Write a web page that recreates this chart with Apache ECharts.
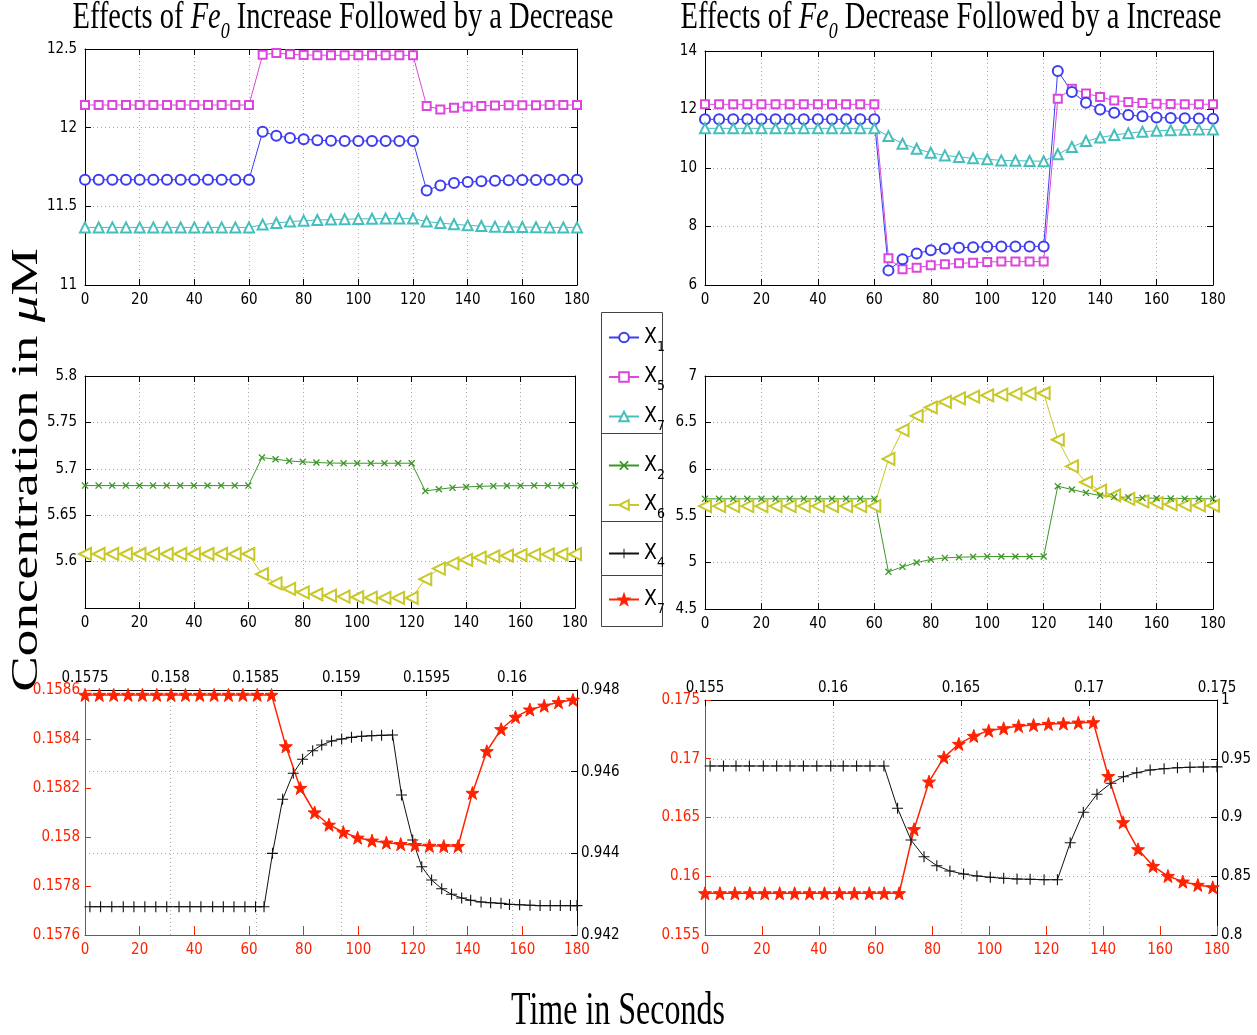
<!DOCTYPE html>
<html><head><meta charset="utf-8">
<script src="https://cdn.jsdelivr.net/npm/echarts@6/dist/echarts.min.js"></script>
<style>html,body{margin:0;padding:0;background:#fff}#c{width:1257px;height:1035px}</style>
</head><body><div id="c"></div><script>
// ---------------- data ----------------
const t = [0,5,10,15,20,25,30,35,40,45,50,55,60,65,70,75,80,85,90,95,100,105,110,115,120,125,130,135,140,145,150,155,160,165,170,175,180];

const tl_X1 = [11.669,11.669,11.669,11.669,11.669,11.669,11.669,11.669,11.669,11.669,11.669,11.669,11.669,11.974,11.948,11.935,11.927,11.920,11.917,11.916,11.916,11.916,11.916,11.916,11.916,11.601,11.633,11.648,11.654,11.659,11.663,11.665,11.667,11.668,11.669,11.669,11.669];
const tl_X5 = [12.144,12.144,12.144,12.144,12.144,12.144,12.144,12.144,12.144,12.144,12.144,12.144,12.144,12.464,12.474,12.466,12.462,12.461,12.460,12.460,12.460,12.460,12.460,12.460,12.460,12.138,12.116,12.127,12.134,12.138,12.141,12.142,12.143,12.143,12.144,12.144,12.144];
const tl_X7 = [11.366,11.366,11.366,11.366,11.366,11.366,11.366,11.366,11.366,11.366,11.366,11.366,11.366,11.384,11.394,11.403,11.409,11.413,11.416,11.418,11.420,11.421,11.422,11.422,11.422,11.403,11.394,11.386,11.379,11.375,11.371,11.369,11.368,11.367,11.366,11.366,11.366];

const tr_X1 = [11.664,11.664,11.664,11.664,11.664,11.664,11.664,11.664,11.664,11.664,11.664,11.664,11.664,6.50,6.88,7.08,7.185,7.24,7.276,7.29,7.31,7.32,7.32,7.32,7.32,13.32,12.60,12.23,12.00,11.89,11.81,11.77,11.73,11.71,11.70,11.69,11.68];
const tr_X5 = [12.177,12.177,12.177,12.177,12.177,12.177,12.177,12.177,12.177,12.177,12.177,12.177,12.177,6.912,6.536,6.593,6.672,6.707,6.74,6.76,6.786,6.80,6.80,6.80,6.80,12.37,12.71,12.55,12.43,12.31,12.26,12.22,12.20,12.19,12.18,12.18,12.18];
const tr_X7 = [11.356,11.356,11.356,11.356,11.356,11.356,11.356,11.356,11.356,11.356,11.356,11.356,11.356,11.09,10.83,10.66,10.52,10.43,10.38,10.33,10.30,10.26,10.25,10.24,10.23,10.47,10.72,10.92,11.04,11.13,11.19,11.24,11.27,11.29,11.31,11.32,11.32];

const ml_X2 = [5.6819,5.6819,5.6819,5.6819,5.6819,5.6819,5.6819,5.6819,5.6819,5.6819,5.6819,5.6819,5.6819,5.7121,5.7103,5.7085,5.7075,5.7068,5.7062,5.7060,5.7060,5.7060,5.7060,5.7060,5.7060,5.6762,5.6780,5.6797,5.6804,5.6811,5.6815,5.6817,5.6818,5.6819,5.6819,5.6819,5.6819];
const ml_X6 = [5.6082,5.6082,5.6082,5.6082,5.6082,5.6082,5.6082,5.6082,5.6082,5.6082,5.6082,5.6082,5.6082,5.5865,5.5765,5.5705,5.5669,5.5648,5.5633,5.5623,5.5616,5.5611,5.5609,5.5609,5.5609,5.5811,5.5925,5.5982,5.6018,5.6043,5.6057,5.6064,5.6071,5.6075,5.6078,5.6079,5.6080];

const mr_X2 = [5.682,5.682,5.682,5.682,5.682,5.682,5.682,5.682,5.682,5.682,5.682,5.682,5.682,4.899,4.952,4.999,5.031,5.048,5.056,5.060,5.062,5.063,5.063,5.063,5.063,5.818,5.782,5.746,5.718,5.704,5.697,5.692,5.688,5.685,5.684,5.683,5.682];
const mr_X6 = [5.604,5.604,5.604,5.604,5.604,5.604,5.604,5.604,5.604,5.604,5.604,5.604,5.604,6.110,6.420,6.573,6.662,6.722,6.761,6.779,6.793,6.800,6.808,6.811,6.815,6.316,6.031,5.860,5.771,5.718,5.682,5.654,5.636,5.622,5.615,5.611,5.608];

const tRed = [0,5.25,10.5,15.75,21,26.25,31.5,36.75,42,47.25,52.5,57.75,63,68.25,73.5,78.75,84,89.25,94.5,99.75,105,110.25,115.5,120.75,126,131.25,136.5,141.75,147,152.25,157.5,162.75,168,173.25,178.5];
const bl_X7 = [0.15858,0.15858,0.15858,0.15858,0.15858,0.15858,0.15858,0.15858,0.15858,0.15858,0.15858,0.15858,0.15858,0.15858,0.15837,0.15820,0.15810,0.15805,0.15802,0.157997,0.157985,0.157977,0.157971,0.157967,0.157964,0.157963,0.157963,0.15818,0.15835,0.15844,0.15849,0.15852,0.158536,0.15855,0.15856];
const br_X7 = [0.15855,0.15855,0.15855,0.15855,0.15855,0.15855,0.15855,0.15855,0.15855,0.15855,0.15855,0.15855,0.15855,0.15855,0.1640,0.16805,0.17012,0.17126,0.17194,0.17239,0.17259,0.17279,0.17287,0.17296,0.17300,0.17307,0.17310,0.16853,0.16459,0.16229,0.16087,0.16002,0.15954,0.15926,0.15906];

const tBlackL = [1.8,5.7,9.8,14.0,17.9,21.9,25.9,29.9,34.4,38.4,42.4,46.7,50.6,54.5,58.5,62.4,65.5,68.6,72.3,76.2,79.6,83.3,86.6,90.2,93.9,97.5,101.2,104.9,108.5,112.5,115.8,119.9,123.2,126.8,130.5,134.1,137.8,141.1,144.9,148.4,152.2,155.3,159.0,162.8,166.5,170.2,173.9,177.6,180];
const bl_X4 = [0.942693,0.942693,0.942693,0.942693,0.942693,0.942693,0.942693,0.942693,0.942693,0.942693,0.942693,0.942693,0.942693,0.942693,0.942693,0.942693,0.942693,0.944,0.945323,0.94596,0.946303,0.946514,0.946653,0.946751,0.9468,0.946841,0.946866,0.94688,0.94689,0.946898,0.945429,0.944327,0.943673,0.943347,0.943134,0.942997,0.942906,0.94285,0.942808,0.94279,0.942775,0.94275,0.94274,0.94273,0.94272,0.94272,0.94272,0.94272,0.94272];

const tBlackR = [1.8,6.5,10.9,15.6,20.5,25.2,29.9,34.6,39.3,44.2,48.6,53.3,58.0,62.9,67.7,72.4,77.0,81.5,86.1,90.9,95.6,100.3,105.0,109.7,114.3,119.2,123.9,128.4,133.0,137.8,142.7,147.1,151.8,156.5,161.4,166.1,170.5,175.2,180];
const br_X4 = [0.94383,0.94383,0.94383,0.94383,0.94383,0.94383,0.94383,0.94383,0.94383,0.94383,0.94383,0.94383,0.94383,0.94383,0.90783,0.88085,0.86664,0.85898,0.85447,0.85191,0.85021,0.8491,0.84826,0.84766,0.8474,0.84706,0.84706,0.87855,0.90443,0.91975,0.92911,0.93472,0.93813,0.94043,0.94153,0.94238,0.94272,0.94298,0.9431];

// axis ranges / ticks
const xTime = {min:0, max:180, interval:20};
const yTL = {min:11, max:12.5, interval:0.5};
const yTR = {min:6, max:14, interval:2};
const yML = {min:5.55, max:5.8, interval:0.05};
const yMR = {min:4.5, max:7, interval:0.5};
const yBLleft = {min:0.1576, max:0.1586, interval:0.0002};
const yBLright = {min:0.942, max:0.948, interval:0.002};
const xBLtop = {min:0.1575, max:0.16038, interval:0.0005};
const yBRleft = {min:0.155, max:0.175, interval:0.005};
const yBRright = {min:0.8, max:1, interval:0.05};
const xBRtop = {min:0.155, max:0.175, interval:0.005};

const legendSub = {X1:'1', X5:'5', X7:'7', X2:'2', X6:'6', X4:'4', X7r:'7'};

// ---------------- styling ----------------
const FONT = "'Liberation Sans Narrow','DejaVu Sans Condensed','Liberation Sans',sans-serif";
const SERIF = "'Liberation Serif','DejaVu Serif',serif";
const RED = '#ff2200';
const STAR = 'path://M10,0L12.35,6.76L19.51,6.91L13.8,11.24L15.88,18.09L10,14L4.12,18.09L6.2,11.24L0.49,6.91L7.65,6.76Z';
const SYM = {
  X1:{symbol:'emptyCircle', size:10, color:'#3c3cf0'},
  X5:{symbol:'emptyRect', size:8, color:'#dc46dc'},
  X7:{symbol:'emptyTriangle', size:10, color:'#46bebe'},
  X2:{symbol:'path://M0,1.3L1.3,0L10,8.7L8.7,10Z M8.7,0L10,1.3L1.3,10L0,8.7Z', size:7, color:'#3c9628', bw:0},
  X6:{symbol:'emptyTriangle', size:12, rotate:90, color:'#c8c828'},
  X4:{symbol:'path://M4.5,0H5.5V10H4.5Z M0,4.5H10V5.5H0Z', size:11, color:'#111', bw:0},
  X7r:{symbol:STAR, size:13, color:RED, lw:1.5}
};

function merge(a,b){for(const k in b){const v=b[k];if(v&&typeof v==='object'&&!Array.isArray(v)&&a[k]&&typeof a[k]==='object'&&!Array.isArray(a[k]))merge(a[k],v);else a[k]=v;}return a;}
const dotted = {show:true, lineStyle:{color:'#a8a8a8', type:[1,3], width:1}};

function axis(g, r, pos, extra){
  const base = {gridIndex:g, type:'value', min:r.min, max:r.max, interval:r.interval, position:pos,
    axisLine:{show:true, onZero:false, lineStyle:{color:'#000', width:1}},
    axisTick:{show:true, inside:true, length:6, lineStyle:{color:'#000'}},
    axisLabel:{show:true, color:'#000', fontSize:15, fontFamily:FONT, margin:8},
    splitLine:{show:false}};
  return merge(base, extra||{});
}
const xAxes = [], yAxes = [];
// standard box panels 0..3
[[xTime,yTL],[xTime,yTR],[xTime,yML],[xTime,yMR]].forEach(([xr,yr],g)=>{
  xAxes.push(axis(g,xr,'bottom',{splitLine:dotted}));
  xAxes.push(axis(g,xr,'top',{axisLabel:{show:false}}));
  yAxes.push(axis(g,yr,'left',{splitLine:dotted, axisLabel:{showMinLabel: g!==2}}));
  yAxes.push(axis(g,yr,'right',{axisLabel:{show:false}}));
});
// dual-axis panels 4,5
const redAx = {axisLine:{lineStyle:{color:RED}}, axisTick:{lineStyle:{color:RED}}, axisLabel:{color:RED}};
[[xBLtop,yBLleft,yBLright],[xBRtop,yBRleft,yBRright]].forEach(([xt,yl,yr],k)=>{
  const g = 4+k;
  xAxes.push(axis(g,xTime,'bottom',merge({axisTick:{length:9}},redAx)));
  xAxes.push(axis(g,xt,'top',{splitLine:dotted, axisLabel:{margin:4, showMaxLabel: k===1}}));
  yAxes.push(axis(g,yl,'left',merge({axisLabel:{margin:5}},redAx)));
  yAxes.push(axis(g,yr,'right',{splitLine:dotted, axisLabel:{margin:4}}));
});

function line(name, xs, ys, xi, yi){
  const s = SYM[name];
  return {name, type:'line', xAxisIndex:xi, yAxisIndex:yi,
    data: xs.map((x,i)=>[x, ys[i]]),
    symbol:s.symbol, symbolSize:s.size, symbolRotate:s.rotate||0, showAllSymbol:true,
    color:s.color, lineStyle:{color:s.color, width:s.lw||1},
    itemStyle:{color:s.color, borderColor:s.color, borderWidth: s.bw===0?0:1},
    emphasis:{disabled:true}, animation:false};
}
const series = [
  line('X5', t, tl_X5, 0, 0), line('X1', t, tl_X1, 0, 0), line('X7', t, tl_X7, 0, 0),
  line('X5', t, tr_X5, 2, 2), line('X1', t, tr_X1, 2, 2), line('X7', t, tr_X7, 2, 2),
  line('X2', t, ml_X2, 4, 4), line('X6', t, ml_X6, 4, 4),
  line('X6', t, mr_X6, 6, 6), line('X2', t, mr_X2, 6, 6),
  line('X4', tBlackL, bl_X4, 8, 9), line('X7r', tRed, bl_X7, 8, 8),
  line('X4', tBlackR, br_X4, 10, 11), line('X7r', tRed, br_X7, 10, 10)
];

const legRich = {
  x:{fontSize:21, fontFamily:FONT, color:'#000', lineHeight:21, verticalAlign:'top'},
  s:{fontSize:14, fontFamily:FONT, color:'#000', lineHeight:14, padding:[13,0,0,0], verticalAlign:'top'}
};
function legend(names, top){
  return {data:names, left:608, top:top, orient:'vertical', padding:0, itemGap:12.5,
    itemWidth:30, itemHeight:12, selectedMode:false,
    formatter: n => '{x|X}{s|' + legendSub[n] + '}', textStyle:{rich:legRich}};
}

const titleRich = {
  n:{fontFamily:SERIF, fontSize:28.5, lineHeight:32, verticalAlign:'top'},
  i:{fontFamily:SERIF, fontStyle:'italic', fontSize:28.5, lineHeight:32, verticalAlign:'top'},
  s:{fontFamily:SERIF, fontStyle:'italic', fontSize:18, lineHeight:18, padding:[16,0,0,0], verticalAlign:'top'}
};

const option = {
  backgroundColor:'#fff', animation:false,
  grid:[
    {left:85, top:49, width:492, height:236},
    {left:705, top:51, width:508, height:234},
    {left:85, top:376, width:490, height:232},
    {left:705, top:376, width:508, height:233},
    {left:85, top:690, width:492, height:245},
    {left:705, top:700, width:512, height:235}
  ],
  xAxis:xAxes, yAxis:yAxes, series,
  legend:[legend(['X1','X5','X7'],327), legend(['X2','X6'],455), legend(['X4'],543), legend(['X7r'],589)],
  graphic:[
    {type:'rect', shape:{x:601.5,y:312.5,width:61,height:121}, style:{fill:'none', stroke:'#444', lineWidth:1}},
    {type:'rect', shape:{x:601.5,y:433.5,width:61,height:88}, style:{fill:'none', stroke:'#444', lineWidth:1}},
    {type:'rect', shape:{x:601.5,y:521.5,width:61,height:54}, style:{fill:'none', stroke:'#444', lineWidth:1}},
    {type:'rect', shape:{x:601.5,y:575.5,width:61,height:51}, style:{fill:'none', stroke:'#444', lineWidth:1}},
    {type:'text', x:343, y:20, scaleY:1.3, style:{
      text:'{n|Effects of }{i|Fe}{s|0}{n| Increase Followed by a Decrease}',
      align:'center', verticalAlign:'middle', fill:'#000', rich:titleRich}},
    {type:'text', x:951, y:20, scaleY:1.3, style:{
      text:'{n|Effects of }{i|Fe}{s|0}{n| Decrease Followed by a Increase}',
      align:'center', verticalAlign:'middle', fill:'#000', rich:titleRich}},
    {type:'text', x:27, y:470, rotation:Math.PI/2, scaleX:1.4, style:{
      text:'{n|Concentration in }{i|μ}{n|M}', align:'center', verticalAlign:'middle', fill:'#000',
      rich:{n:{fontFamily:SERIF, fontSize:38}, i:{fontFamily:SERIF, fontStyle:'italic', fontSize:38}}}},
    {type:'text', x:618, y:1012, scaleY:1.45, style:{
      text:'Time in Seconds', align:'center', verticalAlign:'middle', fill:'#000',
      font:'32px ' + SERIF}}
  ]
};
const chart = echarts.init(document.getElementById('c'));
chart.setOption(option);
</script></body></html>
